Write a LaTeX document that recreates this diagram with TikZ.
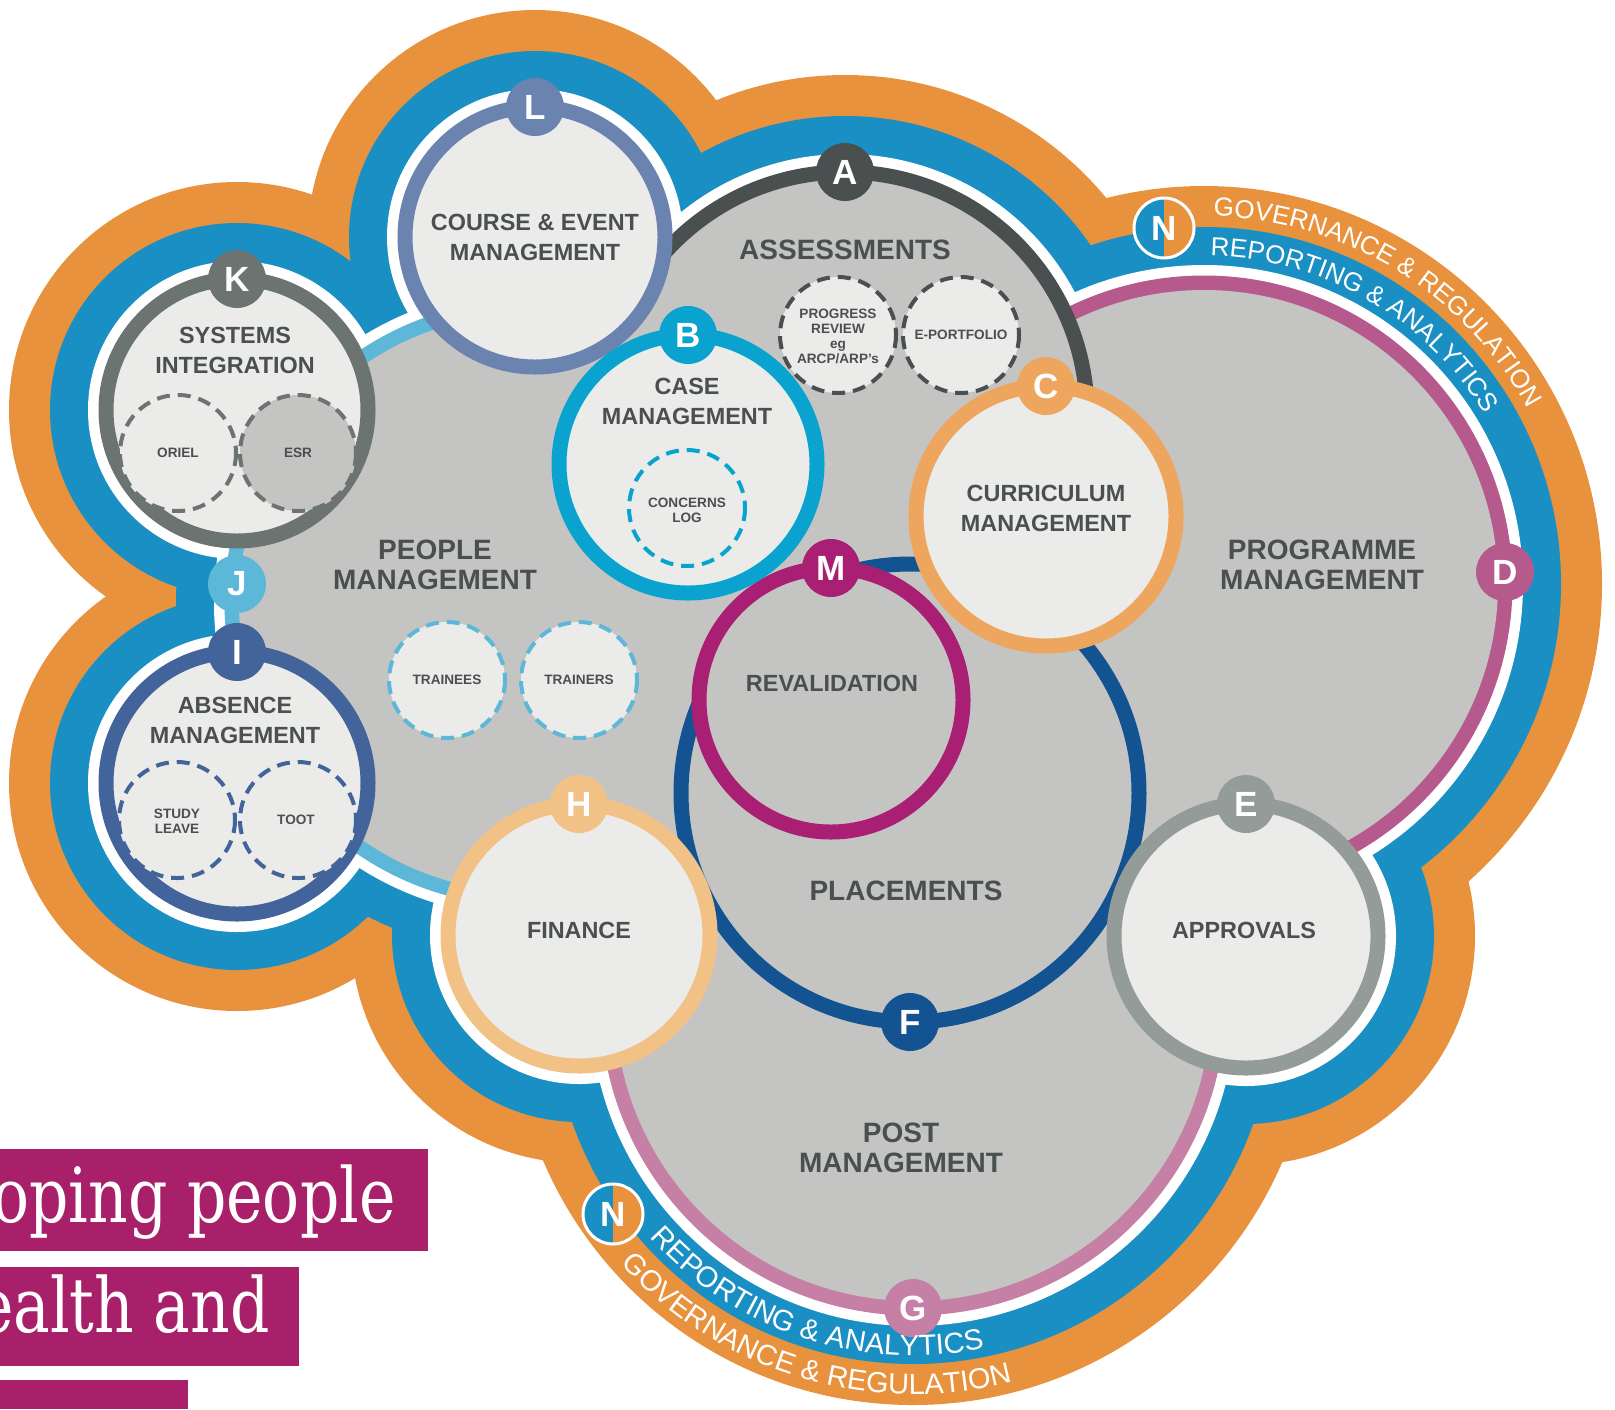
\documentclass[tikz,border=0pt]{standalone}
\usepackage{fontspec}
\setmainfont{Liberation Sans}
\newfontfamily\slabfont{DejaVu Serif}
\usetikzlibrary{decorations.text}

\definecolor{bandorange}{HTML}{E9923D}
\definecolor{bandblue}{HTML}{1A8FC3}
\definecolor{basegrey}{HTML}{C4C5C2}
\definecolor{lightfill}{HTML}{EBEBE9}
\definecolor{darktxt}{HTML}{4A4F50}
\definecolor{colA}{HTML}{4A4F50}
\definecolor{colB}{HTML}{0AA3D0}
\definecolor{colC}{HTML}{EEA65F}
\definecolor{colD}{HTML}{B65A8E}
\definecolor{colE}{HTML}{949C9A}
\definecolor{colF}{HTML}{135391}
\definecolor{colG}{HTML}{C780A5}
\definecolor{colH}{HTML}{F2C186}
\definecolor{colI}{HTML}{43649B}
\definecolor{colJ}{HTML}{5DB7D9}
\definecolor{colK}{HTML}{6C7472}
\definecolor{colL}{HTML}{6B83AF}
\definecolor{colM}{HTML}{A81F73}
\definecolor{boxpurple}{HTML}{A81F6A}

\newcommand{\bigfont}{\fontsize{14}{15}\selectfont\bfseries}
\newcommand{\midfont}{\fontsize{11.7}{15}\selectfont\bfseries}
\newcommand{\tinyfont}{\fontsize{6.8}{7.5}\selectfont\bfseries}
\newcommand{\badgefont}{\fontsize{17.5}{17.5}\selectfont\bfseries}
\newcommand{\arcfontA}{\fontsize{13}{13}\selectfont\color{white}}
\newcommand{\arcfontB}{\fontsize{14.5}{14.5}\selectfont\color{white}}

\tikzset{
  ring/.style={draw=#1, line width=7.5pt},
  disc/.style={fill=lightfill, draw=#1, line width=7.5pt},
  subcirc/.style={draw=#1, line width=2pt, dash pattern=on 6.5pt off 4pt},
  badge/.style={circle, fill=#1, text=white, font=\badgefont, minimum size=29pt, inner sep=0pt},
  nbadge/.style={circle, fill=bandblue, draw=white, line width=1.5pt, text=white, font=\badgefont, minimum size=30pt, inner sep=0pt,
    path picture={\fill[bandorange] (path picture bounding box.north) rectangle (path picture bounding box.south east);}},
  bigtxt/.style={text=darktxt, font=\bigfont, align=center, inner sep=0pt},
  midtxt/.style={text=darktxt, font=\midfont, align=center, inner sep=0pt},
  tinytxt/.style={text=darktxt, font=\tinyfont, align=center, inner sep=0pt},
  strap/.style={anchor=base east, text=white, font=\slabfont\fontsize{38}{38}\selectfont, inner sep=0pt}
}

\begin{document}
\begin{tikzpicture}[x=0.5pt, y=-0.5pt]
	\clip (0,0) rectangle (1615,1409);
	
	\coordinate (pplC) at (528,603);
	\coordinate (assC) at (845,414);
	\coordinate (prgC) at (1204,584);
	\coordinate (plcC) at (910,793);
	\coordinate (pstC) at (913,1003);
	\coordinate (revC) at (831,700);
	\coordinate (crsC) at (535,237);
	\coordinate (sysC) at (237,410);
	\coordinate (absC) at (237,783);
	\coordinate (casC) at (688,464);
	\coordinate (curC) at (1046,516);
	\coordinate (finC) at (579,935);
	\coordinate (aprC) at (1246,936);
	
	% purple strap lines
	\fill[boxpurple] (0,1149) rectangle (428,1251);
	\fill[boxpurple] (0,1267) rectangle (299,1366);
	\fill[boxpurple] (0,1380) rectangle (188,1409);
	\node[strap] (strapA) at (396,1222) {\scalebox{0.81}[1]{oping people}};
	\node[strap] (strapB) at (270,1332) {\scalebox{0.81}[1]{ealth and}};
	
	% outer bands
	\foreach \ctr/\rad in {crsC/130,assC/242,prgC/301,aprC/132,pstC/305,finC/131,absC/131,sysC/131,pplC/296}
	\fill[bandorange] (\ctr) circle ({\rad+97});
	\foreach \ctr/\rad in {crsC/130,assC/242,prgC/301,aprC/132,pstC/305,finC/131,absC/131,sysC/131,pplC/296}
	\fill[bandblue] (\ctr) circle ({\rad+56});
	\foreach \ctr/\rad in {crsC/130,assC/242,prgC/301,aprC/132,pstC/305,finC/131,absC/131,sysC/131,pplC/296}
	\fill[white] (\ctr) circle ({\rad+18});
	
	% big areas
	\draw[ring=colJ] (pplC) circle (296);
	\draw[ring=colG] (pstC) circle (305);
	\draw[ring=colD] (prgC) circle (301);
	\fill[basegrey] (pstC) circle (298);
	\fill[basegrey] (prgC) circle (294);
	\fill[basegrey] (assC) circle (235);
	\draw[ring=colA] (assC) circle (242);
	\fill[basegrey] (pplC) circle (289);
	\fill[basegrey] (plcC) circle (222);
	\draw[ring=colF] (plcC) circle (229);
	\fill[basegrey] (revC) circle (125);
	\draw[ring=colM] (revC) circle (132);
	
	% small circles
	\draw[disc=colL] (crsC) circle (130);
	\draw[disc=colK] (sysC) circle (131);
	\draw[disc=colI] (absC) circle (131);
	\draw[disc=colB] (casC) circle (129);
	\draw[disc=colC] (curC) circle (130);
	\draw[disc=colH] (finC) circle (131);
	\draw[disc=colE] (aprC) circle (132);
	
	% dashed sub-systems
	\draw[subcirc=colK, fill=lightfill] (178,453) circle (58);
	\draw[subcirc=colK, fill=basegrey] (298,453) circle (58);
	\draw[subcirc=colB, fill=lightfill] (687,508) circle (58);
	\draw[subcirc=colA, fill=lightfill] (838,335) circle (58);
	\draw[subcirc=colA, fill=lightfill] (961,335) circle (58);
	\draw[subcirc=colJ, fill=lightfill] (447,680) circle (58);
	\draw[subcirc=colJ, fill=lightfill] (579,680) circle (58);
	\draw[subcirc=colI, fill=lightfill] (177,820) circle (58);
	\draw[subcirc=colI, fill=lightfill] (298,820) circle (58);
	
	% labels
	\node[bigtxt] (tAss) at (845,250) {ASSESSMENTS};
	\node[bigtxt] (tPpl) at (435,565) {PEOPLE\\MANAGEMENT};
	\node[bigtxt] (tPrg) at (1322,565) {PROGRAMME\\MANAGEMENT};
	\node[bigtxt] (tPlc) at (906,891) {PLACEMENTS};
	\node[bigtxt] (tPst) at (901,1148) {POST\\MANAGEMENT};
	\node[midtxt] (tCrs) at (535,237) {COURSE \& EVENT\\MANAGEMENT};
	\node[midtxt] (tSys) at (235,350) {SYSTEMS\\INTEGRATION};
	\node[midtxt] (tCas) at (687,401) {CASE\\MANAGEMENT};
	\node[midtxt] (tCur) at (1046,508) {CURRICULUM\\MANAGEMENT};
	\node[midtxt] (tAbs) at (235,720) {ABSENCE\\MANAGEMENT};
	\node[midtxt] (tRev) at (832,683) {REVALIDATION};
	\node[midtxt] (tFin) at (579,930) {FINANCE};
	\node[midtxt] (tApr) at (1244,930) {APPROVALS};
	\node[tinytxt] (tOri) at (178,453) {ORIEL};
	\node[tinytxt] (tEsr) at (298,453) {ESR};
	\node[tinytxt] (tCon) at (687,510) {CONCERNS\\LOG};
	\node[tinytxt] (tRvw) at (838,336) {PROGRESS\\REVIEW\\eg\\ARCP/ARP’s};
	\node[tinytxt] (tEpf) at (961,335) {E-PORTFOLIO};
	\node[tinytxt] (tTne) at (447,680) {TRAINEES};
	\node[tinytxt] (tTnr) at (579,680) {TRAINERS};
	\node[tinytxt] (tStu) at (177,821) {STUDY\\LEAVE};
	\node[tinytxt] (tToo) at (296,820) {TOOT};
	
	% letter badges
	\node[badge=colL] (bL) at (535,107) {L};
	\node[badge=colA] (bA) at (845,172) {A};
	\node[badge=colB] (bB) at (688,335) {B};
	\node[badge=colC] (bC) at (1046,386) {C};
	\node[badge=colD] (bD) at (1505,572) {D};
	\node[badge=colE] (bE) at (1246,804) {E};
	\node[badge=colF] (bF) at (910,1022) {F};
	\node[badge=colG] (bG) at (913,1308) {G};
	\node[badge=colH] (bH) at (579,804) {H};
	\node[badge=colI] (bI) at (237,652) {I};
	\node[badge=colJ] (bJ) at (237,584) {J};
	\node[badge=colK] (bK) at (237,279) {K};
	\node[badge=colM] (bM) at (831,568) {M};
	
	% band texts
	\path[decorate, decoration={text along path, text align=center, text={|\arcfontA|GOVERNANCE {\&} REGULATION}}] (prgC) ++(-98.5:368) arc (-98.5:-18.5:368);
	\path[decorate, decoration={text along path, text align=center, text={|\arcfontA|REPORTING {\&} ANALYTICS}}] (prgC) ++(-100:328) arc (-100:-20:328);
	\path[decorate, decoration={text along path, text align=center, text={|\arcfontB|REPORTING {\&} ANALYTICS}}] (pstC) ++(-211.7:352.5) arc (-211.7:-291.7:352.5);
	\path[decorate, decoration={text along path, text align=center, text={|\arcfontB|GOVERNANCE {\&} REGULATION}}] (pstC) ++(-213.2:391.5) arc (-213.2:-293.2:391.5);
	\node[nbadge] (bNtop) at (1164,228) {N};
	\node[nbadge] (bNbot) at (613,1214) {N};
\end{tikzpicture}
\end{document}
